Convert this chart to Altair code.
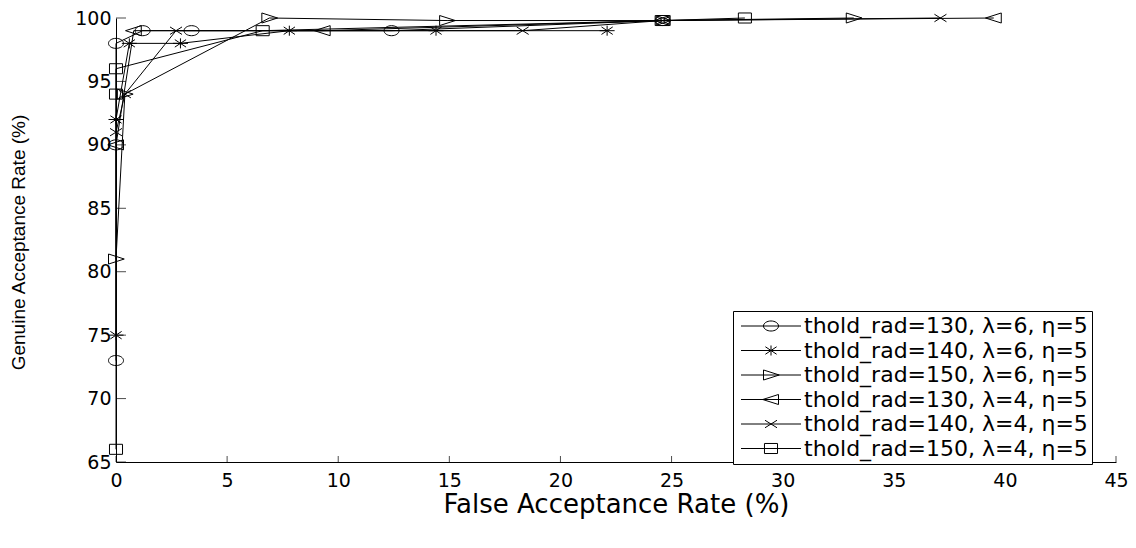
import altair as alt
import pandas as pd

labels = [
    "thold_rad=130, λ=6, η=5",
    "thold_rad=140, λ=6, η=5",
    "thold_rad=150, λ=6, η=5",
    "thold_rad=130, λ=4, η=5",
    "thold_rad=140, λ=4, η=5",
    "thold_rad=150, λ=4, η=5",
]
x_ticks = [0, 5, 10, 15, 20, 25, 30, 35, 40, 45]
y_ticks = [65, 70, 75, 80, 85, 90, 95, 100]

far_130_l6 = [0, 0, 0, 1.2, 3.4, 12.4, 24.6]
gar_130_l6 = [73, 90, 98, 99, 99, 99, 99.8]
far_140_l6 = [0, 0, 0.6, 2.9, 7.8, 14.4, 22.1]
gar_140_l6 = [75, 92, 98, 98, 99, 99, 99]
far_150_l6 = [0, 0.4, 6.9, 14.9, 24.6, 33.2]
gar_150_l6 = [81, 94, 100, 99.8, 99.8, 100]
far_130_l4 = [0, 0.8, 9.3, 24.6, 39.5]
gar_130_l4 = [90, 99, 99, 99.8, 100]
far_140_l4 = [0, 0.4, 2.7, 18.3, 24.6, 37.1]
gar_140_l4 = [91, 94, 99, 99, 99.8, 100]
far_150_l4 = [0, 0, 0, 6.6, 24.6, 28.3]
gar_150_l4 = [66, 94, 96, 99, 99.8, 100]

series_far = [far_130_l6, far_140_l6, far_150_l6, far_130_l4, far_140_l4, far_150_l4]
series_gar = [gar_130_l6, gar_140_l6, gar_150_l6, gar_130_l4, gar_140_l4, gar_150_l4]

# MATLAB-like hollow markers (slightly wide, as in the reference)
m_circle = "M-1,0A1,0.67,0,1,0,1,0A1,0.67,0,1,0,-1,0Z"
m_star = "M-1,0L1,0M0,-0.67L0,0.67M-0.75,-0.5L0.75,0.5M-0.75,0.5L0.75,-0.5"
m_tri_r = "M-1,-0.67L1.1,0L-1,0.67Z"
m_tri_l = "M1,-0.67L-1.1,0L1,0.67Z"
m_x = "M-0.8,-0.5L0.8,0.5M-0.8,0.5L0.8,-0.5"
m_square = "M-0.87,-0.67L0.87,-0.67L0.87,0.67L-0.87,0.67Z"
marker_paths = [m_circle, m_star, m_tri_r, m_tri_l, m_x, m_square]
legend_paths = ["M-4,0L4,0" + p for p in marker_paths]

rows = []
for lab, xs_, ys_ in zip(labels, series_far, series_gar):
    for j, (a, b) in enumerate(zip(xs_, ys_)):
        rows.append({"series": lab, "far": a, "gar": b, "idx": j})
df = pd.DataFrame(rows)
df_xt = pd.DataFrame({"v": x_ticks})
df_yt = pd.DataFrame({"v": y_ticks})

W, H = 1000, 444
xscale = alt.Scale(domain=[0, 45], nice=False, zero=False)
yscale = alt.Scale(domain=[65, 100], nice=False, zero=False)

x_axis = alt.Axis(
    values=x_ticks, ticks=False, grid=False, domainColor="black", domainWidth=1,
    labelFont="DejaVu Sans", labelFontSize=19, labelColor="black", labelPadding=9,
    labelFlush=False, labelOverlap=False,
    title="False Acceptance Rate (%)", titleFont="DejaVu Sans", titleFontSize=26,
    titleFontWeight="normal", titleColor="black", titleBaseline="top", titleY=29,
)
y_axis = alt.Axis(
    values=y_ticks, ticks=False, grid=False, domainColor="black", domainWidth=1,
    labelFont="DejaVu Sans", labelFontSize=19, labelColor="black", labelPadding=5,
    labelFlush=False, labelOverlap=False,
    title="Genuine Acceptance Rate (%)", titleFont="Liberation Sans", titleFontSize=19,
    titleFontWeight="normal", titleColor="black", titleAngle=-90,
    titleBaseline="middle", titleAlign="center", titleX=-98, titleY=224,
)

base = alt.Chart(df)

lines = base.mark_line(color="black", strokeWidth=1).encode(
    x=alt.X("far:Q", scale=xscale, axis=x_axis),
    y=alt.Y("gar:Q", scale=yscale, axis=y_axis),
    detail="series:N",
    order="idx:Q",
)

points = base.mark_point(filled=False, color="black", size=225, strokeWidth=1, opacity=1).encode(
    x=alt.X("far:Q", scale=xscale),
    y=alt.Y("gar:Q", scale=yscale),
    shape=alt.Shape("series:N", scale=alt.Scale(domain=labels, range=marker_paths), legend=None),
)

legend_layer = (
    base.transform_calculate(entry="datum.series")
    .transform_filter("datum.far < -100")
    .mark_point(filled=False, color="black", size=225, strokeWidth=1, opacity=1)
    .encode(
        x=alt.X("far:Q", scale=xscale),
        y=alt.Y("gar:Q", scale=yscale),
        shape=alt.Shape(
            "entry:N",
            scale=alt.Scale(domain=labels, range=legend_paths),
            legend=alt.Legend(
                title=None, orient="none", legendX=617, legendY=293,
                strokeColor="black", fillColor="white", padding=4,
                labelFont="DejaVu Sans", labelFontSize=22, labelColor="black",
                labelLimit=600, symbolSize=225, symbolStrokeColor="black",
                symbolStrokeWidth=1, symbolFillColor="transparent",
                symbolOffset=23, labelOffset=22, rowPadding=2.5,
            ),
        ),
    )
)

xticks = alt.Chart(df_xt).mark_tick(orient="vertical", color="black", size=6, thickness=1, yOffset=-3).encode(
    x=alt.X("v:Q", scale=xscale), y=alt.datum(65, scale=yscale)
)
yticks = alt.Chart(df_yt).mark_tick(orient="horizontal", color="black", size=10, thickness=1, xOffset=5).encode(
    y=alt.Y("v:Q", scale=yscale), x=alt.datum(0, scale=xscale)
)

chart = (
    alt.layer(lines, xticks, yticks, points, legend_layer)
    .resolve_scale(shape="independent")
    .properties(
        width=W, height=H,
        autosize=alt.AutoSizeParams(type="none"),
        padding={"left": 108, "top": 10, "right": 12, "bottom": 70},
        background="white",
    )
    .configure_view(stroke=None)
)

chart.save("out.html", embed_options={"renderer": "svg", "actions": False})
